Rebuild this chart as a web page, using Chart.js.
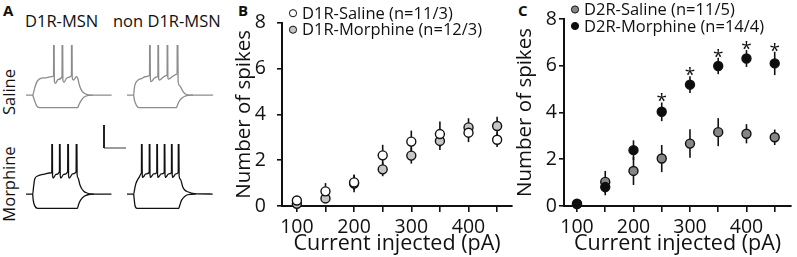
<!DOCTYPE html>
<html lang="en">
<head>
<meta charset="UTF-8">
<title>Number of spikes</title>
<script src="https://cdn.jsdelivr.net/npm/chart.js"></script>
<style>
  body { margin: 0; background: #fff; font-family: 'Open Sans', sans-serif; color: #111; }
  .fig { position: relative; width: 797px; height: 257px; overflow: hidden; }
  .fig canvas, .lbl { position: absolute; }
  .lbl { white-space: nowrap; line-height: 1; }
  .letter { font-weight: bold; font-size: 15px; }
  .head { font-size: 16.5px; }
  .side { font-size: 16.5px; transform: translate(-50%, -50%) rotate(-90deg); }
</style>
</head>
<body>
<div class="fig">
  <div class="lbl letter" style="left:3px;top:3px">A</div>
  <div class="lbl letter" style="left:238px;top:3px">B</div>
  <div class="lbl letter" style="left:518px;top:3px">C</div>
  <div class="lbl head" style="left:25px;top:13px">D1R-MSN</div>
  <div class="lbl head" style="left:113px;top:13px">non D1R-MSN</div>
  <div class="lbl side" style="left:9px;top:92px">Saline</div>
  <div class="lbl side" style="left:9px;top:184px">Morphine</div>

  <canvas id="tr1" width="92" height="67" style="left:26px;top:45px"></canvas>
  <canvas id="tr2" width="92" height="67" style="left:127px;top:45px"></canvas>
  <canvas id="tr3" width="92" height="67" style="left:26px;top:144px"></canvas>
  <canvas id="tr4" width="92" height="67" style="left:127px;top:144px"></canvas>
  <canvas id="bar" width="26" height="27" style="left:102px;top:123px"></canvas>

  <canvas id="chartB" width="287" height="257" style="left:232px;top:0"></canvas>
  <canvas id="chartC" width="284" height="257" style="left:513px;top:0"></canvas>
</div>

<script>
// ---- data ----
const currents = [100, 150, 200, 250, 300, 350, 400, 450];
const spikeTicks = [0, 2, 4, 6, 8];

const d1SalineMean   = [0.24, 0.64, 1.03, 2.21, 2.81, 3.14, 3.20, 2.89];
const d1SalineSem    = [0.15, 0.36, 0.33, 0.46, 0.48, 0.55, 0.41, 0.32];
const d1MorphineMean = [0.10, 0.33, 0.98, 1.60, 2.20, 2.84, 3.43, 3.49];
const d1MorphineSem  = [0.10, 0.20, 0.38, 0.30, 0.35, 0.40, 0.40, 0.40];

const d2SalineMean   = [0.08, 1.03, 1.50, 2.03, 2.67, 3.16, 3.09, 2.94];
const d2SalineSem    = [0.05, 0.47, 0.60, 0.58, 0.61, 0.60, 0.41, 0.33];
const d2MorphineMean = [0.10, 0.81, 2.39, 4.03, 5.19, 5.99, 6.31, 6.10];
const d2MorphineSem  = [0.05, 0.35, 0.42, 0.40, 0.36, 0.35, 0.36, 0.50];

const sigCurrents = [250, 300, 350, 400, 450];

// example traces, [ms, mV]; spikes run past the top and are cut off
const d1SalineUp = [[0,-80],[60,-80],[78,-74],[96,-69],[123,-66],[177,-65],[231,-64],[248,-63.5],[250,25],[255,-68],[265,-69.8],[289,-66.5],[324,-64],[327,25],[332,-67],[342,-69],[369,-65],[409,-63.2],[411,25],[416,-65],[427,-67],[454,-64.1],[465,-65.5],[483,-72.2],[501,-76.1],[528,-78.7],[573,-80],[771,-80]];
const d1SalineDown = [[60,-80],[78,-85],[96,-89.5],[123,-91],[465,-91],[478,-88],[497,-84.6],[523,-81.7],[559,-80.4],[599,-80]];

const nonD1SalineUp = [[0,-80],[60,-80],[66,-74],[78,-69.5],[100,-67],[135,-65.5],[161,-64.1],[203,-63],[205,25],[210,-66],[217,-68.4],[245,-65.5],[274,-64.1],[278,-63.8],[280,25],[285,-66],[292,-67],[325,-64.5],[355,-63.2],[361,-63],[363,25],[368,-65],[375,-66.1],[415,-63.5],[445,-62],[451,-62],[453,25],[460,-68],[475,-72],[489,-74.2],[505,-77],[526,-79.1],[571,-80],[775,-80]];
const nonD1SalineDown = [[60,-80],[66,-84],[85,-89],[107,-91],[445,-91],[455,-88.5],[467,-85.8],[485,-83.5],[512,-81.5],[557,-80.3],[595,-80]];

const d1MorphineUp = [[0,-80],[60,-80],[69,-73],[78,-67.2],[105,-64.3],[168,-62.6],[229,-61.5],[232,-61.3],[234,25],[239,-64],[245,-66.1],[270,-63],[301,-60.6],[303,25],[308,-64],[314,-66.1],[340,-63],[375,-60.6],[378,25],[383,-64],[389,-66.1],[420,-62.5],[451,-60.6],[454,25],[460,-63],[468,-66],[485,-72],[499,-75],[520,-77.5],[544,-78.9],[589,-80],[769,-80]];
const d1MorphineDown = [[60,-80],[66,-86],[80,-90.5],[105,-92.4],[463,-92.4],[472,-89.5],[483,-86.7],[505,-83.5],[528,-81.7],[573,-80.2],[610,-80]];

const nonD1MorphineUp = [[0,-80],[60,-80],[70,-75],[81,-70.7],[112,-65],[128,-62],[130,-61.5],[132,25],[137,-63],[142,-65.6],[170,-62.5],[200,-61.3],[202,25],[207,-63],[212,-65.6],[240,-62.5],[268,-61.3],[270,25],[275,-63],[280,-65.6],[308,-62.5],[335,-61.3],[337,25],[342,-63],[347,-65.6],[375,-62.5],[400,-61.3],[402,25],[407,-63],[412,-65.6],[440,-62.5],[461,-61.3],[463,25],[469,-64],[480,-67],[501,-73.6],[520,-76.5],[546,-78],[606,-79.7],[771,-80]];
const nonD1MorphineDown = [[60,-80],[72,-90],[90,-92.4],[465,-92.4],[475,-89.8],[490,-85.5],[530,-81.3],[580,-80.2],[620,-80]];

const scaleBarMs = 200;
const scaleBarMv = 20;

// ---- shared settings ----
Chart.defaults.font.family = "'Open Sans', sans-serif";
Chart.defaults.color = '#111';
Chart.defaults.animation = false;
Chart.defaults.responsive = false;
Chart.defaults.events = [];
Chart.defaults.plugins.legend.display = false;
Chart.defaults.plugins.tooltip.enabled = false;

const MS_PER_PX = 9;
const PX_PER_MV = 1.15;
const TRACE_TOP = -36.5;

function toPoints(arr) {
    return arr.map(p => ({ x: p[0], y: p[1] }));
}

function makeTrace(id, up, down, color) {
    const cv = document.getElementById(id);
    return new Chart(cv, {
        type: 'scatter',
        data: {
            datasets: [up, down].map(d => ({
                data: toPoints(d),
                showLine: true,
                borderColor: color,
                borderWidth: 1.3,
                pointRadius: 0,
                cubicInterpolationMode: 'monotone'
            }))
        },
        options: {
            layout: { padding: 0 },
            scales: {
                x: { display: false, min: 0, max: cv.width * MS_PER_PX },
                y: { display: false, max: TRACE_TOP, min: TRACE_TOP - cv.height / PX_PER_MV }
            }
        }
    });
}

makeTrace('tr1', d1SalineUp, d1SalineDown, '#8c8c8c');
makeTrace('tr2', nonD1SalineUp, nonD1SalineDown, '#8c8c8c');
makeTrace('tr3', d1MorphineUp, d1MorphineDown, '#111');
makeTrace('tr4', nonD1MorphineUp, nonD1MorphineDown, '#111');

// scale bar
new Chart(document.getElementById('bar'), {
    type: 'scatter',
    data: {
        datasets: [
            { data: [{ x: 0, y: scaleBarMv }, { x: 0, y: 0 }], showLine: true, borderColor: '#222', borderWidth: 2, pointRadius: 0, clip: false },
            { data: [{ x: 0, y: 0 }, { x: scaleBarMs, y: 0 }], showLine: true, borderColor: '#666', borderWidth: 1.3, pointRadius: 0, clip: false }
        ]
    },
    options: {
        layout: { padding: 2 },
        scales: {
            x: { display: false, min: 0, max: scaleBarMs },
            y: { display: false, min: 0, max: scaleBarMv }
        }
    }
});

// ---- plugins for the spike-count panels ----
const errorBars = {
    id: 'errorBars',
    beforeDatasetsDraw(chart) {
        const { ctx, scales: { x, y } } = chart;
        ctx.save();
        ctx.strokeStyle = '#111';
        ctx.lineWidth = 1.6;
        chart.data.datasets.forEach(ds => {
            ds.data.forEach((p, i) => {
                const px = x.getPixelForValue(p.x);
                ctx.beginPath();
                ctx.moveTo(px, y.getPixelForValue(p.y - ds.sem[i]));
                ctx.lineTo(px, y.getPixelForValue(p.y + ds.sem[i]));
                ctx.stroke();
            });
        });
        ctx.restore();
    }
};

const stars = {
    id: 'stars',
    afterDatasetsDraw(chart, args, opts) {
        if (!opts.at) return;
        const { ctx, scales: { x, y } } = chart;
        const ds = chart.data.datasets[opts.dataset];
        ctx.save();
        ctx.fillStyle = '#111';
        ctx.font = "19px 'Open Sans'";
        ctx.textAlign = 'center';
        ctx.textBaseline = 'alphabetic';
        opts.at.forEach(c => {
            const i = ds.data.findIndex(p => p.x === c);
            const p = ds.data[i];
            ctx.fillText('*', x.getPixelForValue(c), y.getPixelForValue(p.y + ds.sem[i]) + 5);
        });
        ctx.restore();
    }
};

const keyBox = {
    id: 'keyBox',
    afterDraw(chart) {
        const { ctx, chartArea } = chart;
        ctx.save();
        ctx.font = "16.5px 'Open Sans'";
        ctx.textBaseline = 'middle';
        chart.data.datasets.forEach((ds, i) => {
            const cx = chartArea.left + 11;
            const cy = chartArea.top - 9.5 + i * 16.5;
            ctx.beginPath();
            ctx.arc(cx, cy, 3.6, 0, Math.PI * 2);
            ctx.fillStyle = ds.backgroundColor;
            ctx.fill();
            ctx.lineWidth = 1;
            ctx.strokeStyle = '#111';
            ctx.stroke();
            ctx.fillStyle = '#111';
            ctx.fillText(ds.label, cx + 9, cy + 1);
        });
        ctx.restore();
    }
};

function series(label, mean, sem, fill, order) {
    return {
        label: label,
        data: currents.map((c, i) => ({ x: c, y: mean[i] })),
        sem: sem,
        backgroundColor: fill,
        borderColor: '#111',
        borderWidth: 1.4,
        pointRadius: 4.5,
        order: order,
        clip: false
    };
}

function spikePanel(id, datasets, xMin, xMax, yWidth, yPad, rightPad, starOpts) {
    return new Chart(document.getElementById(id), {
        type: 'scatter',
        data: { datasets: datasets },
        options: {
            layout: { padding: { left: 0, top: 19, right: rightPad, bottom: 0 } },
            plugins: { stars: starOpts },
            scales: {
                x: {
                    type: 'linear',
                    min: xMin,
                    max: xMax,
                    afterBuildTicks: s => { s.ticks = currents.map(v => ({ value: v })); },
                    afterFit: s => { s.height = 51; },
                    ticks: {
                        autoSkip: false,
                        maxRotation: 0,
                        padding: 4,
                        color: '#111',
                        font: { size: 19.5 },
                        callback: v => (v % 100 === 0 ? String(v) : '')
                    },
                    grid: { drawOnChartArea: false, drawTicks: true, tickLength: 6, color: '#111', lineWidth: 1.6 },
                    border: { display: true, color: '#111', width: 2 },
                    title: { display: true, text: 'Current injected (pA)', color: '#111', font: { size: 21.5 }, padding: 0 }
                },
                y: {
                    min: 0,
                    max: 8,
                    afterBuildTicks: s => { s.ticks = spikeTicks.map(v => ({ value: v })); },
                    afterFit: s => { s.width = yWidth; },
                    ticks: { padding: yPad, color: '#111', font: { size: 19.5 } },
                    grid: { drawOnChartArea: false, drawTicks: true, tickLength: 5, color: '#111', lineWidth: 1.6 },
                    border: { display: true, color: '#111', width: 2 },
                    title: { display: true, text: 'Number of spikes', color: '#111', font: { size: 20.5 }, padding: 0 }
                }
            }
        },
        plugins: [errorBars, stars, keyBox]
    });
}

spikePanel('chartB', [
    series('D1R-Saline (n=11/3)', d1SalineMean, d1SalineSem, '#ffffff', 1),
    series('D1R-Morphine (n=12/3)', d1MorphineMean, d1MorphineSem, '#c6c6c6', 2)
], 74, 476, 50, 11, 7, {});

spikePanel('chartC', [
    series('D2R-Saline (n=11/5)', d2SalineMean, d2SalineSem, '#868686', 2),
    series('D2R-Morphine (n=14/4)', d2MorphineMean, d2MorphineSem, '#0d0d0d', 1)
], 77, 479, 51, 2, 2, { at: sigCurrents, dataset: 1 });
</script>
</body>
</html>
